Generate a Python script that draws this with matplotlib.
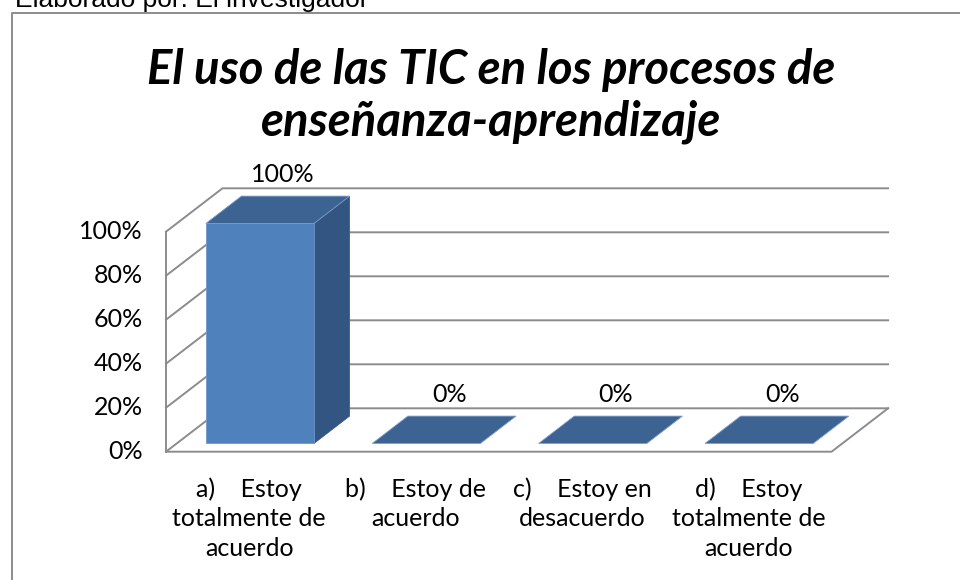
import matplotlib
matplotlib.use("Agg")
import matplotlib.pyplot as plt
from matplotlib.patches import Polygon

# datos del grafico
categorias = ["a)    Estoy\ntotalmente de\nacuerdo",
              "b)    Estoy de\nacuerdo",
              "c)    Estoy en\ndesacuerdo",
              "d)    Estoy\ntotalmente de\nacuerdo"]
porcentajes = [100, 0, 0, 0]
ticks = [0, 20, 40, 60, 80, 100]
titulo = "El uso de las TIC en los procesos de\nenseñanza-aprendizaje"
fuente = "Elaborado por: El investigador"

W, H = 960, 580
# escala de la caja 3d (pixeles del lienzo)
x0px, ux = 166.0, 166.4      # eje frontal izquierdo, px por categoria
y0px, uy = 451.7, 2.2        # 0% en px, px por punto porcentual
ddx, ddy = 56.5 / ux, 43.4 / uy   # profundidad del piso/pared
ancho, f0, f1 = 0.65, 0.19, 0.82

fig = plt.figure(figsize=(W / 100, H / 100), dpi=100)
ax = fig.add_axes([0, 0, 1, 1])
ax.set_xlim(-x0px / ux, (W - x0px) / ux)
ax.set_ylim((y0px - H) / uy, y0px / uy)
ax.axis("off")

def py(p):
    return (y0px - p) / uy

fam = ["Lato", "DejaVu Sans"]
gris = "#8C8C8C"
n = len(categorias)

# paredes y lineas de division
for t in ticks:
    ax.plot([0, ddx, n + ddx], [t, t + ddy, t + ddy], color=gris, lw=1.4, zorder=1)
ax.plot([0, 0], [0, ticks[-1]], color=gris, lw=1.4, zorder=1)
ax.plot([0, n, n + ddx], [0, 0, ddy], color=gris, lw=1.4, zorder=1)

for t in ticks:
    ax.text(-0.14, t, f"{t}%", ha="right", va="center", fontsize=18, family=fam)

# barras 3d
for i, v in enumerate(porcentajes):
    xa = i + 0.5 - ancho / 2
    xb = i + 0.5 + ancho / 2
    a0, b0 = f0 * ddx, f0 * ddy
    a1, b1 = f1 * ddx, f1 * ddy
    lado = [(xb + a0, b0), (xb + a1, b1), (xb + a1, v + b1), (xb + a0, v + b0)]
    frente = [(xa + a0, b0), (xb + a0, b0), (xb + a0, v + b0), (xa + a0, v + b0)]
    tapa = [(xa + a0, v + b0), (xb + a0, v + b0), (xb + a1, v + b1), (xa + a1, v + b1)]
    if v > 0:
        ax.add_patch(Polygon(lado, closed=True, fc="#335582", ec="#335582", lw=0.5, zorder=3))
        ax.add_patch(Polygon(frente, closed=True, fc="#4F81BD", ec="#7096C8", lw=0.6, zorder=3))
    ax.add_patch(Polygon(tapa, closed=True, fc="#3D6392", ec="#7E9DC8", lw=0.6, zorder=3))
    ax.text(i + 0.5 + 0.6 * ddx, v + b1 + 10, f"{v}%", ha="center", va="center",
            fontsize=18, family=fam, zorder=4)
    ax.text(i + 0.5, py(477), categorias[i], ha="center", va="top", fontsize=18,
            family=fam, linespacing=1.36)

# titulo
fig.text(491 / W, 1 - 48 / H, titulo, ha="center", va="top", fontsize=34,
         family=fam, fontweight="bold", style="italic", linespacing=1.2)

# marco y fuente
ax.plot([(12 - x0px) / ux, (12 - x0px) / ux, (W + 10 - x0px) / ux],
        [py(H + 10), py(12.5), py(12.5)], color=gris, lw=1.4, zorder=1, clip_on=False)
fig.text(15 / W, 1 - 7.5 / H, fuente, ha="left", va="baseline", fontsize=19,
         family=["Liberation Sans", "DejaVu Sans"])

fig.savefig("out.png", dpi=100)
